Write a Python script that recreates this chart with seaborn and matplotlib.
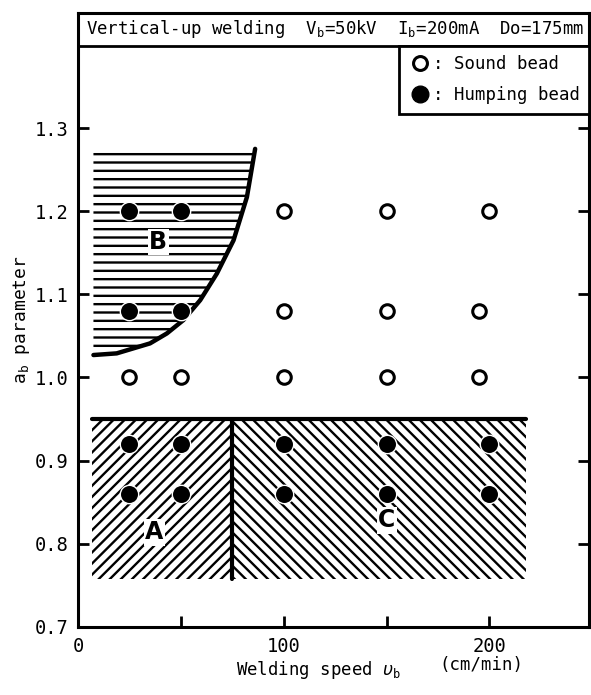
import matplotlib
matplotlib.use("Agg")
import matplotlib.pyplot as plt
from matplotlib.lines import Line2D
import pandas as pd
import seaborn as sns

# datos
sound_x = [100, 150, 200, 100, 150, 195, 25, 50, 100, 150, 195]
sound_y = [1.20, 1.20, 1.20, 1.08, 1.08, 1.08, 1.00, 1.00, 1.00, 1.00, 1.00]
hump_x = [25, 50, 25, 50, 25, 50, 100, 150, 200, 25, 50, 100, 150, 200]
hump_y = [1.20, 1.20, 1.08, 1.08, 0.92, 0.92, 0.92, 0.92, 0.92, 0.86, 0.86, 0.86, 0.86, 0.86]

# limite da regiao B
curve_x = [7.5, 18.8, 35, 43.2, 51.2, 59.4, 67.5, 75.6, 82.1, 86.1]
curve_y = [1.027, 1.029, 1.041, 1.053, 1.069, 1.093, 1.125, 1.165, 1.217, 1.275]
b_top = 1.272

# regioes A e C
ac_left, ac_mid, ac_right = 7, 75, 218
ac_bottom, ac_top = 0.758, 0.95

region_labels = ["A", "B", "C"]
label_x = [37, 39, 150]
label_y = [0.814, 1.163, 0.828]

title_text = ("Vertical-up welding  V$_\\mathregular{b}$=50kV  "
              "I$_\\mathregular{b}$=200mA  Do=175mm")
title_bottom = 1.399

sns.set_style("ticks")
plt.rcParams['font.family'] = ['DejaVu Sans Mono', 'DejaVu Sans']
plt.rcParams['mathtext.fontset'] = 'custom'
plt.rcParams['mathtext.rm'] = 'DejaVu Sans Mono'
plt.rcParams['mathtext.it'] = 'DejaVu Sans:italic'
plt.rcParams['hatch.linewidth'] = 1.7
for k in ['text.color', 'axes.labelcolor', 'xtick.color', 'ytick.color', 'axes.edgecolor']:
    plt.rcParams[k] = 'black'

fig = plt.figure(figsize=(5.91, 6.95), dpi=100)
ax = fig.add_axes([0.132, 0.098, 0.865, 0.884])

# regiao B (hachura horizontal)
ax.fill(curve_x + [curve_x[0]], curve_y + [b_top], facecolor='none',
        edgecolor='black', hatch='--', linewidth=0)
ax.plot(curve_x, curve_y, color='black', lw=3.2, solid_capstyle='round')

# regioes A e C
ax.fill_between([ac_left, ac_mid], ac_bottom, ac_top, facecolor='none',
                edgecolor='black', hatch='///', linewidth=0)
ax.fill_between([ac_mid, ac_right], ac_bottom, ac_top, facecolor='none',
                edgecolor='black', hatch='\\\\\\', linewidth=0)
ax.plot([ac_left, ac_right], [ac_top, ac_top], color='black', lw=3)
ax.plot([ac_mid, ac_mid], [ac_bottom, ac_top], color='black', lw=3)

sound = pd.DataFrame({'speed': sound_x, 'ab': sound_y})
hump = pd.DataFrame({'speed': hump_x, 'ab': hump_y})
sns.scatterplot(data=sound, x='speed', y='ab', ax=ax, marker='o', s=95,
                facecolor='white', edgecolor='black', linewidth=2.2, zorder=5)
sns.scatterplot(data=hump, x='speed', y='ab', ax=ax, marker='o', s=175,
                color='black', edgecolor='white', linewidth=1.0, zorder=5)

for lab, lx, ly in zip(region_labels, label_x, label_y):
    ax.text(lx, ly, lab, fontsize=17, fontweight='bold', family='DejaVu Sans',
            ha='center', va='center', zorder=6,
            bbox=dict(facecolor='white', edgecolor='none', pad=1))

# caixa do titulo
ax.axhline(title_bottom, color='black', lw=2)
ax.text(0.015, (1.439 + title_bottom) / 2, title_text, fontsize=12.5,
        ha='left', va='center', transform=ax.get_yaxis_transform())

handles = [Line2D([], [], ls='none', marker='o', ms=10, mfc='white', mec='black', mew=2.2),
           Line2D([], [], ls='none', marker='o', ms=12, mfc='black', mec='black')]
leg = ax.legend(handles, [': Sound bead', ': Humping bead'], loc='upper right',
                bbox_to_anchor=(1.0, 0.946), borderaxespad=0, fancybox=False,
                edgecolor='black', framealpha=1, fontsize=12.5, handlelength=1.3,
                handletextpad=0.1, labelspacing=0.75, borderpad=0.55)
leg.get_frame().set_linewidth(2)

ax.set_xlim(0, 248.5)
ax.set_ylim(0.7, 1.439)
ax.set_xticks([0, 100, 200])
ax.set_xticks([50, 150], minor=True)
ax.set_yticks([0.7, 0.8, 0.9, 1.0, 1.1, 1.2, 1.3])
ax.set_yticklabels(['0.7', '0.8', '0.9', '1.0', '1.1', '1.2', '1.3'])
ax.tick_params(axis='both', which='both', direction='in', length=8, width=2,
               labelsize=13.5, pad=7)
ax.tick_params(axis='y', right=True)

for sp in ax.spines.values():
    sp.set_linewidth(2.2)

ax.set_xlabel('')
ax.set_ylabel('a$_\\mathregular{b}$ parameter', fontsize=13)
ax.yaxis.set_label_coords(-0.09, 0.5)
ax.text(0.47, -0.07, 'Welding speed $\\upsilon_\\mathregular{b}$', fontsize=12.5,
        ha='center', va='center', transform=ax.transAxes)
ax.text(0.79, -0.062, '(cm/min)', fontsize=12.5, ha='center', va='center',
        transform=ax.transAxes)

fig.savefig('out.png', dpi=100)
